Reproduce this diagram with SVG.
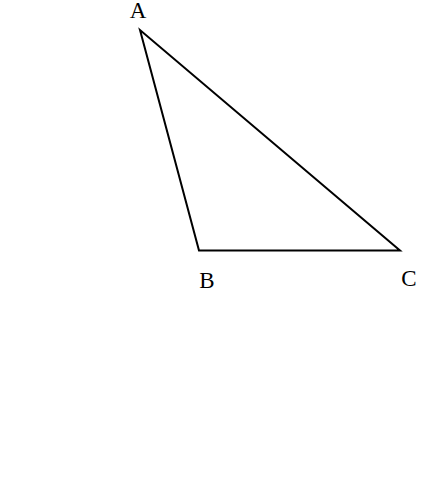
<svg xmlns="http://www.w3.org/2000/svg" width="440" height="491" viewBox="0 0 440 491">
<style>
.lbl{font-family:"Liberation Serif","DejaVu Serif",serif;font-size:23px;fill:#000;text-anchor:middle}
.edge{fill:none;stroke:#000;stroke-width:2;stroke-linejoin:miter}
</style>
<rect width="440" height="491" fill="#fff"/>
<g id="connectors">
<polygon class="edge" points="140,30 199,250.5 400,250.5"/>
</g>
<g id="node-A"><text class="lbl" x="138" y="18">A</text></g>
<g id="node-B"><text class="lbl" x="207" y="288">B</text></g>
<g id="node-C"><text class="lbl" x="409" y="286">C</text></g>
</svg>
